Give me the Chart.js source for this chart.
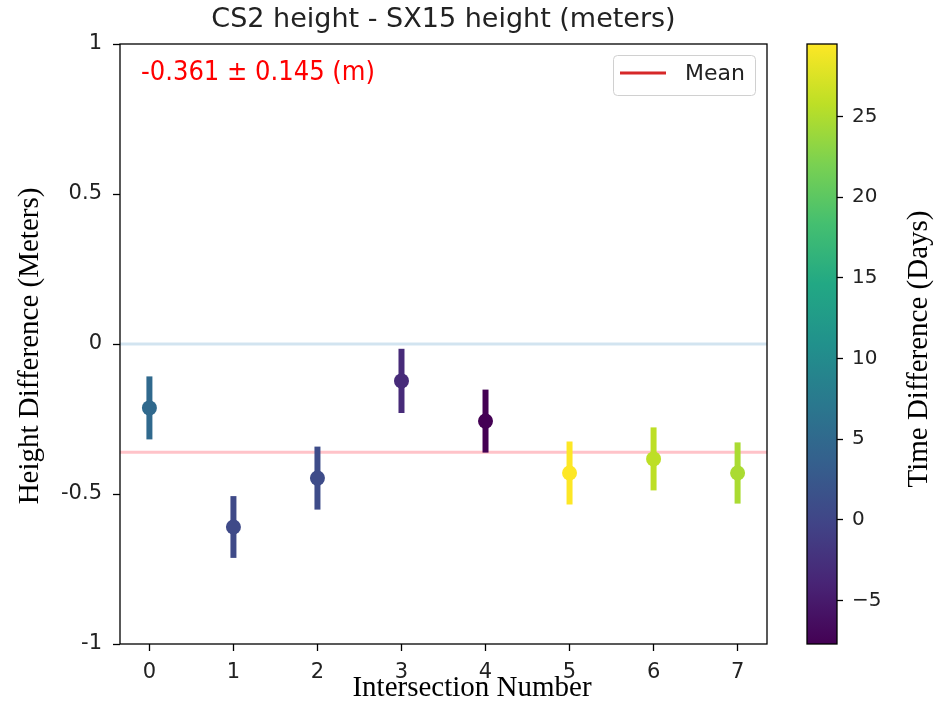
<!DOCTYPE html>
<html>
<head>
<meta charset="utf-8">
<script src="https://cdn.jsdelivr.net/npm/chart.js@4.4.1/dist/chart.umd.min.js"></script>
<style>
  body { margin: 0; background: #fff; }
  #wrap { position: relative; width: 940px; height: 704px; }
  #mainChart { position: absolute; left: 0; top: 0; }
  #barChart { position: absolute; left: 780px; top: 0; }
</style>
</head>
<body>
<div id="wrap">
  <canvas id="mainChart" width="780" height="704"></canvas>
  <canvas id="barChart" width="160" height="704"></canvas>
</div>
<script>
var intersections = [0, 1, 2, 3, 4, 5, 6, 7];
var heightDiff = [-0.213, -0.61, -0.447, -0.123, -0.257, -0.43, -0.383, -0.43];
var heightErr = [0.105, 0.103, 0.105, 0.107, 0.105, 0.105, 0.105, 0.102];
var timeDiff = [5.0, 0.5, 0.8, -3.2, -7.7, 29.5, 25.8, 24.7];
var meanDiff = -0.361;
var meanErr = 0.145;
var xTicks = [0, 1, 2, 3, 4, 5, 6, 7];
var yTicks = [-1, -0.5, 0, 0.5, 1];
var cbarTicks = [-5, 0, 5, 10, 15, 20, 25];

var cMin = Math.min.apply(null, timeDiff);
var cMax = Math.max.apply(null, timeDiff);

// viridis stops
var viridis = ["#440154", "#482475", "#414487", "#355f8d", "#2a788e", "#21918c",
               "#22a884", "#44bf70", "#7ad151", "#bddf26", "#fde725"];

function hexRgb(h) {
  return [parseInt(h.substr(1, 2), 16), parseInt(h.substr(3, 2), 16), parseInt(h.substr(5, 2), 16)];
}
function viridisColor(v) {
  var t = (v - cMin) / (cMax - cMin);
  t = Math.max(0, Math.min(1, t)) * (viridis.length - 1);
  var i = Math.min(Math.floor(t), viridis.length - 2);
  var f = t - i;
  var a = hexRgb(viridis[i]), b = hexRgb(viridis[i + 1]);
  var c = a.map(function (x, k) { return Math.round(x + (b[k] - x) * f); });
  return "rgb(" + c.join(",") + ")";
}
var pointColors = timeDiff.map(viridisColor);

var points = intersections.map(function (x, i) { return {x: x, y: heightDiff[i]}; });

var extras = {
  id: "extras",
  beforeDatasetsDraw: function (chart) {
    var ctx = chart.ctx, xs = chart.scales.x, ys = chart.scales.y, a = chart.chartArea;
    ctx.save();
    // zero line
    ctx.strokeStyle = "rgba(31,119,180,0.2)";
    ctx.lineWidth = 3;
    ctx.beginPath();
    ctx.moveTo(a.left, ys.getPixelForValue(0));
    ctx.lineTo(a.right, ys.getPixelForValue(0));
    ctx.stroke();
    // mean line
    ctx.strokeStyle = "rgba(255,40,60,0.28)";
    ctx.beginPath();
    ctx.moveTo(a.left, ys.getPixelForValue(meanDiff));
    ctx.lineTo(a.right, ys.getPixelForValue(meanDiff));
    ctx.stroke();
    // error bars
    ctx.lineWidth = 6;
    intersections.forEach(function (x, i) {
      ctx.strokeStyle = pointColors[i];
      ctx.beginPath();
      ctx.moveTo(xs.getPixelForValue(x), ys.getPixelForValue(heightDiff[i] + heightErr[i]));
      ctx.lineTo(xs.getPixelForValue(x), ys.getPixelForValue(heightDiff[i] - heightErr[i]));
      ctx.stroke();
    });
    ctx.restore();
  },
  afterDraw: function (chart) {
    var ctx = chart.ctx, a = chart.chartArea;
    ctx.save();
    // frame
    ctx.strokeStyle = "#000";
    ctx.lineWidth = 1.3;
    ctx.strokeRect(a.left, a.top, a.right - a.left, a.bottom - a.top);
    // title
    ctx.fillStyle = "#222";
    ctx.font = "27px 'DejaVu Sans'";
    ctx.textAlign = "center";
    ctx.textBaseline = "middle";
    ctx.fillText("CS2 height - SX15 height (meters)", (a.left + a.right) / 2, 20);
    // mean annotation
    ctx.fillStyle = "#ff0000";
    ctx.font = "27px 'DejaVu Sans Condensed', 'DejaVu Sans'";
    ctx.textAlign = "left";
    ctx.fillText(meanDiff.toFixed(3) + " \u00b1 " + meanErr.toFixed(3) + " (m)", 141, 73);
    // legend
    ctx.fillStyle = "rgba(255,255,255,0.8)";
    ctx.strokeStyle = "#d0d0d0";
    ctx.lineWidth = 1;
    ctx.beginPath();
    ctx.roundRect(613.5, 55.5, 142, 40, 4);
    ctx.fill();
    ctx.stroke();
    ctx.strokeStyle = "#d62728";
    ctx.lineWidth = 3;
    ctx.beginPath();
    ctx.moveTo(620, 73);
    ctx.lineTo(666, 73);
    ctx.stroke();
    ctx.fillStyle = "#222";
    ctx.font = "22px 'DejaVu Sans'";
    ctx.fillText("Mean", 685, 74);
    // axis titles
    ctx.font = "29px 'Liberation Serif'";
    ctx.fillStyle = "#000";
    ctx.textAlign = "center";
    ctx.fillText("Intersection Number", 472, 688);
    ctx.translate(30, 346);
    ctx.rotate(-Math.PI / 2);
    ctx.fillText("Height Difference (Meters)", 0, 0);
    ctx.restore();
  }
};

new Chart("mainChart", {
  type: "scatter",
  data: {
    datasets: [{
      data: points,
      pointBackgroundColor: pointColors,
      pointBorderColor: pointColors,
      pointRadius: 7.5,
      pointBorderWidth: 0
    }]
  },
  options: {
    responsive: false,
    animation: false,
    layout: {padding: {top: 44, right: 13, left: 0, bottom: 0}},
    plugins: {legend: {display: false}, tooltip: {enabled: false}},
    scales: {
      x: {
        type: "linear",
        min: -0.35, max: 7.35,
        afterBuildTicks: function (s) { s.ticks = xTicks.map(function (v) { return {value: v}; }); },
        afterFit: function (s) { s.height = 60; },
        grid: {drawOnChartArea: false, tickLength: 7, tickColor: "#000", tickWidth: 1.3},
        border: {display: false},
        ticks: {color: "#222", padding: 9, maxRotation: 0, font: {family: "DejaVu Sans", size: 21}}
      },
      y: {
        min: -1, max: 1,
        afterBuildTicks: function (s) { s.ticks = yTicks.map(function (v) { return {value: v}; }); },
        afterFit: function (s) { s.width = 120; },
        grid: {drawOnChartArea: false, tickLength: 7, tickColor: "#000", tickWidth: 1.3},
        border: {display: false},
        ticks: {color: "#222", padding: 11, font: {family: "DejaVu Sans", size: 21},
                callback: function (v) { return String(v); }}
      }
    }
  },
  plugins: [extras]
});

var cbar = {
  id: "cbar",
  beforeDraw: function (chart) {
    var ctx = chart.ctx, a = chart.chartArea;
    var g = ctx.createLinearGradient(0, a.bottom, 0, a.top);
    viridis.forEach(function (c, i) { g.addColorStop(i / (viridis.length - 1), c); });
    ctx.save();
    ctx.fillStyle = g;
    ctx.fillRect(a.left, a.top, a.right - a.left, a.bottom - a.top);
    ctx.strokeStyle = "#000";
    ctx.lineWidth = 1.3;
    ctx.strokeRect(a.left, a.top, a.right - a.left, a.bottom - a.top);
    ctx.restore();
  },
  afterDraw: function (chart) {
    var ctx = chart.ctx;
    ctx.save();
    ctx.font = "29px 'Liberation Serif'";
    ctx.fillStyle = "#000";
    ctx.textAlign = "center";
    ctx.textBaseline = "middle";
    ctx.translate(139, 349);
    ctx.rotate(-Math.PI / 2);
    ctx.fillText("Time Difference (Days)", 0, 0);
    ctx.restore();
  }
};

new Chart("barChart", {
  type: "scatter",
  data: {datasets: []},
  options: {
    responsive: false,
    animation: false,
    layout: {padding: {top: 44, left: 27, bottom: 60, right: 0}},
    plugins: {legend: {display: false}, tooltip: {enabled: false}},
    scales: {
      x: {display: false},
      y: {
        position: "right",
        min: cMin, max: cMax,
        afterBuildTicks: function (s) { s.ticks = cbarTicks.map(function (v) { return {value: v}; }); },
        afterFit: function (s) { s.width = 103; },
        grid: {drawOnChartArea: false, tickLength: 6, tickColor: "#000", tickWidth: 1.3},
        border: {display: false},
        ticks: {color: "#222", padding: 9, font: {family: "DejaVu Sans", size: 20},
                callback: function (v) { return v < 0 ? "\u2212" + Math.abs(v) : String(v); }}
      }
    }
  },
  plugins: [cbar]
});
</script>
</body>
</html>
